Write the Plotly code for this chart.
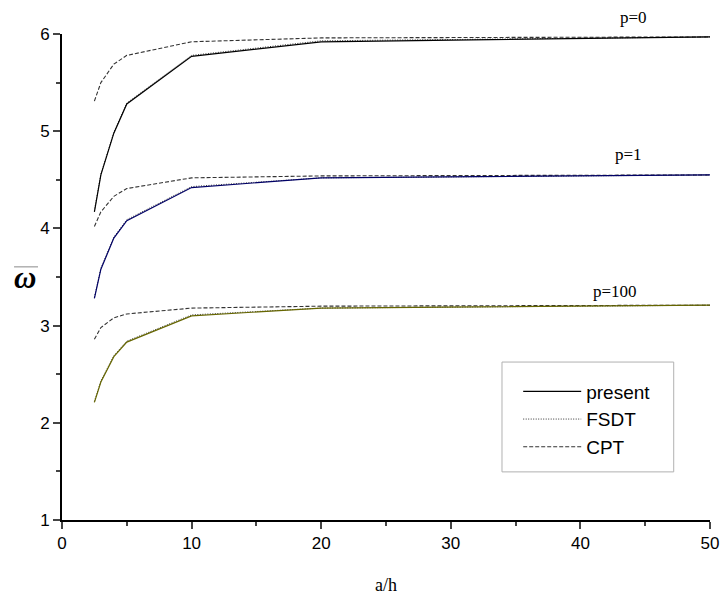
import plotly.graph_objects as go

# a/h ratios
a_h = [2.5, 3, 4, 5, 10, 20, 50]

# p = 0
present_p0 = [4.17, 4.55, 4.98, 5.28, 5.77, 5.92, 5.97]
fsdt_p0 = [4.18, 4.56, 4.99, 5.29, 5.78, 5.93, 5.97]
cpt_p0 = [5.31, 5.50, 5.69, 5.78, 5.92, 5.96, 5.97]

# p = 1
present_p1 = [3.28, 3.58, 3.90, 4.08, 4.42, 4.52, 4.55]
fsdt_p1 = [3.29, 3.59, 3.91, 4.09, 4.43, 4.52, 4.55]
cpt_p1 = [4.02, 4.17, 4.33, 4.41, 4.52, 4.54, 4.55]

# p = 100
present_p100 = [2.21, 2.42, 2.68, 2.83, 3.10, 3.18, 3.21]
fsdt_p100 = [2.22, 2.43, 2.69, 2.84, 3.11, 3.18, 3.21]
cpt_p100 = [2.86, 2.98, 3.08, 3.12, 3.18, 3.20, 3.21]

p_labels = ["p=0", "p=1", "p=100"]
label_x = [44.1, 43.7, 42.7]
label_y = [6.17, 4.76, 3.35]

Y_MIN, Y_MAX = 1, 6

groups = [
    (present_p0, fsdt_p0, cpt_p0, "black"),
    (present_p1, fsdt_p1, cpt_p1, "#000066"),
    (present_p100, fsdt_p100, cpt_p100, "#666600"),
]

fig = go.Figure()
for i, (pres, fsdt, cpt, color) in enumerate(groups):
    show = i == 0
    fig.add_trace(go.Scatter(
        x=a_h, y=cpt, mode="lines", name="CPT", legendrank=3,
        line=dict(color="#333333", width=1.1, dash="4px,2px"),
        showlegend=show
    ))
    fig.add_trace(go.Scatter(
        x=a_h, y=fsdt, mode="lines", name="FSDT", legendrank=2,
        line=dict(color="#333333", width=1, dash="1px,1.5px"),
        showlegend=show
    ))
    fig.add_trace(go.Scatter(
        x=a_h, y=pres, mode="lines", name="present", legendrank=1,
        line=dict(color=color, width=1.2),
        showlegend=show
    ))

# curve labels, placed in paper coords so the top one is not hidden
for txt, lx, ly in zip(p_labels, label_x, label_y):
    fig.add_annotation(
        x=lx, xref="x", y=(ly - Y_MIN) / (Y_MAX - Y_MIN), yref="paper",
        xanchor="center", yanchor="middle",
        text=txt, showarrow=False,
        font=dict(family="Liberation Serif", size=17, color="black")
    )

# y axis title: omega with an overline
fig.add_annotation(
    xref="paper", yref="paper", x=-0.057, y=0.50, text="<i><b>ω</b></i>",
    xanchor="center", yanchor="middle",
    showarrow=False, font=dict(family="Liberation Serif", size=31, color="black")
)
fig.add_shape(
    type="line", xref="paper", yref="paper",
    x0=-0.074, x1=-0.037, y0=0.521, y1=0.521,
    line=dict(color="black", width=1.5)
)

# legend frame
fig.add_shape(
    type="rect", xref="paper", yref="paper",
    x0=0.679, x1=0.944, y0=0.099, y1=0.325,
    line=dict(color="black", width=1), fillcolor="rgba(0,0,0,0)"
)

fig.update_layout(
    width=727, height=596,
    template="simple_white",
    paper_bgcolor="white", plot_bgcolor="white",
    margin=dict(l=62, r=17, t=34, b=76),
    showlegend=True,
    legend=dict(
        x=0.704, y=0.3035, xanchor="left", yanchor="top",
        borderwidth=0, bgcolor="rgba(0,0,0,0)",
        font=dict(family="Liberation Sans", size=19, color="black"),
        tracegroupgap=0, itemwidth=58,
        traceorder="normal"
    ),
    xaxis=dict(
        range=[0, 50], tickvals=[0, 10, 20, 30, 40, 50],
        ticks="outside", ticklen=7, tickwidth=1.5, linewidth=1.8, linecolor="black",
        minor=dict(ticks="outside", ticklen=4, dtick=5, tick0=0, tickwidth=1.5),
        showgrid=False, zeroline=False, mirror=False, automargin=False,
        tickfont=dict(family="Liberation Sans", size=17, color="black"),
        title=dict(text="a/h", font=dict(family="Liberation Serif", size=18, color="black"), standoff=26)
    ),
    yaxis=dict(
        range=[Y_MIN, Y_MAX], tickvals=[1, 2, 3, 4, 5, 6],
        ticks="outside", ticklen=7, tickwidth=1.5, linewidth=1.8, linecolor="black",
        minor=dict(ticks="outside", ticklen=4, dtick=0.5, tick0=1, tickwidth=1.5),
        showgrid=False, zeroline=False, mirror=False, automargin=False,
        tickfont=dict(family="Liberation Sans", size=17, color="black")
    ),
)

# drop the default 8px body margin so the figure sits at the window origin
fig.write_html("out.html", config={"displayModeBar": False},
               post_script="document.body.style.margin='0';")
